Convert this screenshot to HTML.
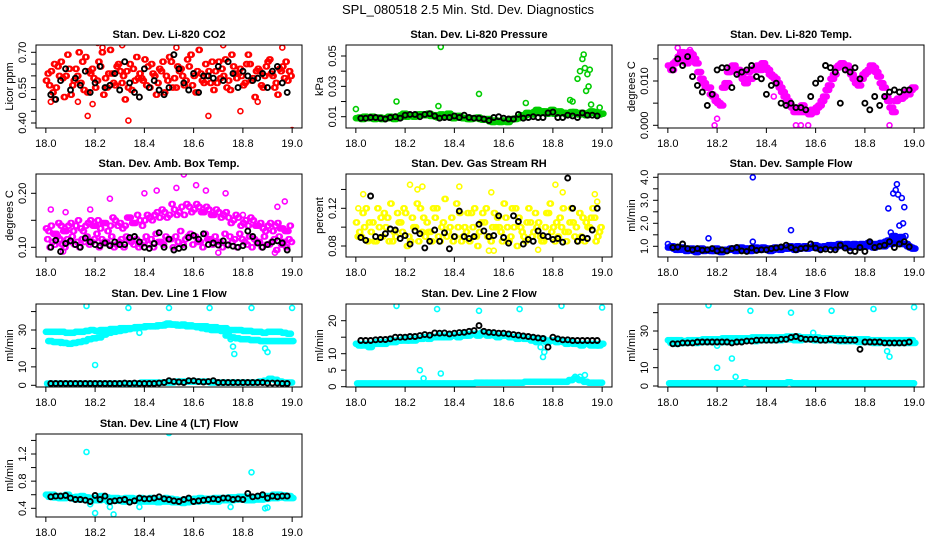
<!DOCTYPE html>
<html><head><meta charset="utf-8"><style>
html,body{margin:0;padding:0;background:#fff;}
svg{display:block;font-family:"Liberation Sans",Arial,sans-serif;}
</style></head><body>
<svg id="chart" width="936" height="540" viewBox="0 0 936 540">
<text x="468" y="14" font-size="13" text-anchor="middle">SPL_080518  2.5 Min. Std. Dev. Diagnostics</text>
</svg>
<script>
// ---------- data ----------
const xTicks=[18.0,18.2,18.4,18.6,18.8,19.0];
const xTickLabels=["18.0","18.2","18.4","18.6","18.8","19.0"];

const co2RedA=[.58,.62,.55,.66,.60,.52,.63,.57,.68,.61,.55,.64,.59,.71,.56,.62,.50,.65,.58,.61,.67,.55,.60,.63,.53,.68,.59,.62,.56,.64,.60,.71,.57,.62,.54,.66,.60,.58,.64,.61,.56,.69,.59,.63,.55,.66,.60,.52,.64,.58];
const co2RedB=[.61,.53,.64,.59,.69,.56,.60,.66,.53,.63,.58,.70,.55,.61,.64,.57,.62,.54,.68,.59,.56,.65,.52,.62,.60,.66,.55,.63,.58,.69,.53,.61,.65,.57,.62,.59,.67,.54,.61,.63,.57,.65,.51,.62,.60,.67,.55,.63,.59,.62];
const co2RedC=[.56,.65,.60,.51,.63,.58,.70,.54,.62,.59,.66,.52,.61,.57,.65,.60,.55,.63,.59,.58,.64,.61,.57,.66,.58,.55,.64,.60,.67,.56,.62,.58,.60,.66,.57,.63,.55,.69,.59,.60,.65,.58,.62,.56,.64,.61,.57,.62,.66,.60];
const co2RedOut=[[18.02,.49],[18.035,.50],[18.13,.49],[18.17,.43],[18.19,.48],[18.21,.74],[18.335,.41],[18.38,.51],[18.66,.43],[18.79,.45],[18.86,.49],[19.0,.37],[18.72,.73],[18.31,.73],[18.53,.72],[18.96,.72],[18.23,.72]];
const co2Black=[.52,.50,.58,.63,.54,.59,.56,.62,.53,.57,.64,.55,.56,.61,.54,.66,.57,.53,.51,.63,.55,.58,.54,.52,.55,.69,.63,.57,.54,.61,.53,.60,.60,.59,.64,.58,.66,.61,.55,.62,.60,.58,.59,.61,.55,.62,.64,.57,.53];

const prsGreenA=[.009,.0085,.0095,.010,.009,.0085,.009,.0095,.010,.011,.010,.0105,.011,.0115,.011,.0105,.010,.0115,.0105,.0095,.010,.0095,.009,.0085,.009,.0085,.008,.007,.0075,.0065,.007,.008,.0085,.0095,.011,.012,.013,.0125,.0135,.013,.012,.0135,.0125,.012,.013,.0115,.012,.0125,.013,.0115];
const prsGreenB=[.0095,.010,.009,.0085,.0095,.009,.010,.0085,.0095,.012,.0105,.010,.0115,.011,.012,.011,.0095,.010,.012,.009,.0105,.009,.0085,.009,.0095,.008,.0085,.0065,.007,.0075,.0065,.0085,.009,.011,.0125,.0115,.0145,.0135,.012,.0145,.013,.0125,.0115,.013,.012,.0125,.011,.0135,.012,.012];
const prsGreenOut=[[18.0,.015],[18.165,.020],[18.345,.056],[18.335,.017],[18.5,.025],[18.69,.019],[18.87,.021],[18.88,.020],[18.90,.035],[18.91,.040],[18.92,.048],[18.925,.051],[18.93,.042],[18.935,.027],[18.94,.038],[18.945,.030],[18.95,.041],[18.955,.018],[18.99,.016]];
const prsBlack=[.009,.009,.0095,.0095,.009,.0085,.0095,.010,.009,.011,.0115,.0115,.010,.0115,.012,.0105,.009,.0095,.0095,.0105,.0095,.011,.0095,.009,.009,.0085,.0075,.0095,.010,.009,.0085,.0085,.0115,.009,.0095,.010,.0095,.0095,.0125,.013,.0095,.0095,.011,.0105,.0095,.0125,.011,.011,.0105];

const tmpMagA=[.0135,.014,.0155,.015,.0165,.015,.012,.0095,.0085,.0065,.005,.0085,.012,.0135,.0125,.0105,.012,.0125,.0135,.014,.0125,.011,.0095,.0075,.0055,.004,.0035,.0045,.003,.0035,.004,.0055,.008,.0105,.013,.014,.0135,.0115,.0095,.0105,.012,.0135,.012,.0095,.0065,.004,.0055,.006,.0075,.008];
const tmpMagB=[.0125,.0145,.0165,.014,.016,.014,.0105,.0085,.007,.0055,.0045,.0095,.013,.0125,.0115,.0095,.0105,.013,.0125,.013,.0115,.0105,.0085,.0065,.0045,.003,.003,.003,.0025,.003,.0045,.0065,.009,.0115,.0135,.0135,.0125,.0105,.009,.0115,.0125,.013,.011,.0085,.0055,.003,.006,.0065,.007,.0085];
const tmpMagOut=[[18.19,0],[18.20,.0015],[18.52,0],[18.54,0],[18.57,0],[18.90,0],[18.43,.0065],[18.25,.0095],[18.04,.0175],[18.09,.017]];
const tmpBlack=[.0125,.015,.0135,.0155,.011,.009,.0075,.0045,.007,.0125,.013,.013,.0085,.0115,.012,.0125,.0135,.011,.0105,.007,.009,.0095,.005,.0045,.005,.004,.004,.0035,.0065,.0095,.0105,.0135,.013,.012,.005,.0125,.012,.013,.0105,.005,.0035,.0065,.0045,.0065,.0075,.008,.0075,.008,.008];

const ambMagA=[.135,.14,.125,.14,.13,.145,.14,.135,.14,.15,.14,.135,.145,.14,.15,.145,.14,.155,.145,.15,.15,.155,.16,.155,.165,.16,.17,.165,.16,.175,.17,.175,.165,.17,.16,.165,.16,.155,.15,.155,.145,.14,.15,.14,.135,.14,.13,.145,.135,.13];
const ambMagB=[.13,.125,.145,.13,.14,.13,.15,.13,.145,.14,.15,.145,.13,.155,.14,.135,.155,.145,.16,.14,.16,.15,.165,.17,.155,.18,.16,.175,.18,.165,.18,.165,.175,.16,.17,.155,.165,.145,.16,.14,.15,.155,.14,.145,.13,.145,.14,.135,.13,.14];
const ambMagC=[.115,.11,.12,.105,.115,.12,.11,.115,.12,.11,.125,.115,.11,.12,.105,.115,.12,.11,.115,.105,.12,.115,.125,.11,.12,.115,.12,.13,.115,.125,.12,.11,.125,.115,.12,.11,.125,.12,.115,.125,.11,.12,.115,.11,.12,.105,.115,.12,.11,.115];
const ambMagD=[.10,.105,.115,.10,.11,.105,.10,.11,.105,.115,.10,.11,.105,.10,.11,.10,.115,.105,.10,.11,.105,.10,.11,.105,.115,.10,.11,.105,.12,.105,.11,.10,.115,.105,.11,.10,.105,.11,.10,.115,.105,.10,.11,.10,.105,.11,.095,.105,.10,.11];
const ambMagOut=[[18.02,.17],[18.08,.165],[18.18,.17],[18.26,.19],[18.40,.20],[18.45,.205],[18.53,.21],[18.56,.235],[18.61,.215],[18.65,.205],[18.73,.20],[18.80,.16],[18.94,.175],[18.97,.185],[18.93,.09],[18.07,.092],[18.70,.09]];
const ambBlack=[.10,.113,.092,.107,.112,.105,.10,.117,.11,.105,.103,.108,.103,.11,.105,.105,.118,.12,.11,.10,.098,.107,.127,.10,.115,.095,.098,.10,.118,.122,.115,.125,.105,.108,.104,.112,.104,.102,.10,.103,.13,.12,.108,.10,.105,.11,.112,.108,.095];

const rhYelA=[.105,.09,.12,.095,.085,.11,.10,.125,.09,.105,.115,.085,.10,.12,.09,.095,.11,.085,.13,.10,.09,.115,.10,.085,.12,.095,.105,.09,.115,.10,.125,.085,.10,.11,.09,.12,.095,.105,.085,.115,.10,.09,.12,.095,.105,.085,.11,.10,.12,.09];
const rhYelB=[.09,.115,.085,.105,.12,.09,.11,.085,.115,.095,.08,.11,.125,.095,.105,.085,.12,.10,.09,.11,.125,.085,.095,.115,.09,.105,.12,.085,.10,.095,.11,.09,.12,.10,.085,.105,.115,.09,.10,.125,.085,.11,.095,.105,.09,.115,.085,.10,.11,.095];
const rhYelC=[.095,.10,.105,.085,.10,.115,.085,.095,.105,.12,.09,.10,.085,.11,.095,.12,.09,.105,.095,.085,.10,.09,.115,.10,.08,.115,.09,.10,.11,.085,.10,.12,.08,.095,.105,.09,.10,.085,.115,.095,.105,.10,.085,.12,.10,.09,.105,.11,.085,.10];
const rhYelOut=[[18.01,.12],[18.03,.135],[18.22,.145],[18.25,.14],[18.27,.143],[18.42,.143],[18.55,.137],[18.81,.145],[18.84,.137],[18.97,.135],[18.54,.075],[18.56,.075],[18.74,.076],[18.98,.127]];
const rhBlack=[.089,.086,.133,.09,.089,.093,.098,.097,.088,.091,.082,.096,.093,.078,.085,.097,.085,.094,.077,.09,.117,.09,.088,.09,.103,.096,.09,.091,.112,.089,.083,.112,.106,.082,.087,.085,.096,.091,.09,.087,.088,.084,.152,.12,.085,.089,.088,.097,.12];

const sfBlueA=[.95,.9,.85,.9,.85,.8,.85,.8,.85,.8,.85,.8,.85,.9,.85,.85,.9,.85,.9,.95,.9,.85,.9,.95,.9,.95,1.0,.95,.9,.95,1.0,.95,1.0,1.05,1.0,1.05,1.1,1.0,1.05,1.1,1.0,1.05,1.1,1.15,1.2,1.1,1.3,1.4,1.1,.95];
const sfBlueB=[1.0,.85,.95,.8,.9,.75,.9,.85,.8,.9,.75,.85,.9,.8,.95,.9,.8,.95,.85,.9,.8,.95,.85,.9,1.0,.85,.9,1.0,.95,1.05,.9,1.0,1.05,.95,1.1,1.0,.95,1.1,1.0,1.05,1.15,.95,1.05,1.0,1.25,1.45,1.2,1.1,1.0,.9];
const sfBlueOut=[[18.0,1.1],[18.165,1.35],[18.345,4.0],[18.345,1.2],[18.50,1.7],[18.895,2.65],[18.905,1.6],[18.915,3.3],[18.925,3.45],[18.93,3.7],[18.935,3.25],[18.94,1.9],[18.95,3.1],[18.955,2.0],[18.96,2.7],[18.965,1.45]];
const sfBlack=[.95,.97,1.1,.9,.85,.9,.83,.85,.9,.8,.85,.8,.9,.95,.8,.78,.93,.82,.85,.85,.9,.93,.97,1.05,.95,.85,.9,.92,1.1,.92,.85,.88,.85,.85,1.05,.92,.8,.78,.95,.78,1.2,.95,1.0,1.05,1.2,.95,1.1,1.2,.98];

const l1CyA=[29,29,29,29,28.5,28.5,29,29,29.5,30,29.5,30,30,30.5,30.5,31,31,31,31.5,31.5,32,32,32,32.5,33,33,33,32.5,32.5,32.5,32,32,32,31.5,31.5,31,31,30,30,30,29.5,29.5,29,29,28.5,29,29,29,28.5,28];
const l1CyB=[24,23.5,23.5,23,22.5,23,23.5,24,25,25.5,26,27.5,28.5,29,29.5,30,30.5,31,31.5,31.5,32,32,32.5,32.5,33.5,33,32.5,33,32,32,31.5,31,30.5,30,30,29.5,27,26,25.5,25,25,24.5,24.5,24,24,24,24,24,24,24];
const l1CyC=[1,1,1,1,1,1,1,1,1,1,1,1,1,1,1,1,1,1,1,1.5,1.5,1.5,1.5,1.5,1.5,1.5,2,2,2,2,2,2,2,1.5,1.5,1.5,1.5,1.5,1.5,1.5,1.5,1.5,1.5,2,2.5,3.5,3,2,1.5,1.5];
const l1CyOut=[[18.165,43],[18.2,11],[18.335,42],[18.50,42],[18.665,42],[18.835,42],[19.0,42],[18.75,25],[18.76,21],[18.765,17],[18.89,20],[18.9,18],[18.38,28.5],[18.06,23]];
const l1Black=[1,1,1,1,1,1,1,1,1,1,1,1,1,1,1,1.2,1,1.2,1,1,1,1,1.2,1.5,2.5,2,1.8,1.5,2.5,2.5,2,1.8,2,2.5,1.5,1.5,1.5,1.5,1.5,1.5,1.5,1.5,1.5,1.5,1.2,1.2,1.2,1,1];

const l2CyA=[13,12.5,13,13,13.5,13.5,13.5,14,14,14,14,14.5,14.5,14.5,15,15,15,15,15.5,15.5,15.5,15.5,15.5,16,16,16,16,16,15.5,15.5,15.5,15,15,15,14.5,14.5,14.5,14.5,14,14,14,14,13.5,13.5,13,13,13,13,13,12.5];
const l2CyB=[12.5,13,12,13,13,13,13.5,13.5,14,14.5,14,14,14.5,15,14.5,15,15.5,15,15,15.5,15,16,15.5,16,15.5,16.5,15.5,16,15,15.5,15.5,15,14.5,15,14.5,14,13.5,14.5,13.5,14,13.5,14,13,13.5,13,12.5,13,12.5,12.5,13];
const l2CyC=[1,1,1,1,1,1,1,1,1,1,1,1,1,1,1,1,1,1,1,1,1,1,1,1,1.2,1.2,1.2,1.2,1.2,1.2,1.2,1.2,1.2,1.2,1.5,1.5,1.5,1.5,1.5,1.5,1.5,1.5,1.5,2,2.5,2,1.5,1.2,1.2,1.2];
const l2CyOut=[[18.165,24.5],[18.33,23.5],[18.50,23],[18.665,23.5],[18.835,24.5],[19.0,24],[18.26,5],[18.275,2.5],[18.345,4],[18.75,12],[18.76,9],[18.765,10.5],[18.89,3],[18.91,3],[18.93,3.5]];
const l2Black=[14,14,14,14.2,14.3,14.3,14.5,15,15,15,15.2,15.2,15.5,15.8,15.6,16.3,16.2,16.3,16,16.2,16.4,16.5,16.8,17,18.5,16.8,16.5,16.4,16.2,16.2,16,15.8,15.6,15.4,15.2,15,14.8,14.6,12,15,14.5,14.2,14.2,14,14,14,14,14,14];

const l3CyA=[25,25,25,24.5,25,25,25,25.5,25.5,25.5,25.5,26,26,26,26,26,26,26.5,26.5,26.5,26.5,26.5,26.5,26.5,27,27,27,26.5,26.5,26.5,26.5,26,26,26,26,26,25.5,25.5,25.5,25.5,25.5,25,25,25,25,25,25,25,25,25];
const l3CyB=[23.5,23,23.5,23.5,24,23.5,24,24,24,24,24,24,24.5,24.5,24.5,25,25,24.5,25,25,25,25,25,25.5,25.5,25,25,25.5,25.5,25,25,25,25,25,24.5,24.5,24.5,24.5,24,24,24,23.5,23.5,24,23.5,23.5,23.5,23.5,23.5,23.5];
const l3CyC=[1.5,1.5,1.5,1.5,1.5,1.5,1.5,1.5,1.5,1.5,1.5,1.5,1.5,1.5,1.5,2,1.5,1.5,1.5,1.5,1.5,1.5,1.5,1.5,2,1.5,1.5,1.5,1.5,1.5,1.5,1.5,1.5,1.5,1.5,1.5,1.5,1.5,1.5,1.5,1.5,1.5,1.5,1.5,1.5,1.5,1.5,1.5,1.5,1.5];
const l3CyOut=[[18.165,44],[18.2,10],[18.26,15],[18.275,5],[18.335,41],[18.50,40],[18.665,41],[18.835,42],[19.0,43],[18.89,19],[18.9,16],[18.59,29],[18.2,22]];
const l3Black=[23,23,23.5,23.5,23.5,24,24,24,24,24,24,24,23.5,24,24,24.5,24.5,25,25,25,25,25,25.5,25.5,26.5,27,26,25.5,25.5,25.5,25,25,25.5,25,25,25,25,25,20,24,24,24,24,23.5,23.5,23.5,23.5,23.5,24];

const l4CyA=[.6,.6,.58,.58,.6,.56,.57,.58,.56,.55,.55,.58,.56,.55,.55,.54,.55,.55,.54,.55,.54,.55,.53,.53,.55,.54,.53,.52,.53,.53,.54,.55,.54,.54,.55,.55,.55,.56,.56,.57,.57,.57,.56,.56,.58,.58,.6,.6,.59,.58];
const l4CyB=[.57,.56,.55,.55,.56,.54,.53,.54,.52,.52,.52,.53,.5,.52,.51,.5,.5,.52,.51,.5,.5,.5,.49,.5,.5,.49,.49,.48,.49,.5,.5,.51,.51,.5,.5,.52,.52,.52,.53,.53,.52,.52,.53,.53,.54,.55,.55,.56,.55,.55];
const l4CyOut=[[18.165,1.23],[18.20,0.33],[18.26,0.42],[18.275,0.31],[18.50,1.51],[18.835,0.93],[18.38,0.42],[18.89,0.40],[18.75,0.42],[18.9,0.41],[18.18,0.46]];
const l4Black=[.57,.58,.58,.59,.55,.53,.53,.52,.50,.59,.53,.58,.50,.51,.52,.53,.49,.51,.55,.54,.54,.55,.57,.54,.53,.51,.50,.53,.55,.50,.51,.52,.53,.54,.53,.55,.55,.53,.54,.53,.62,.57,.58,.60,.55,.58,.57,.58,.58];

// ---------- layout ----------
const NS="http://www.w3.org/2000/svg";
const svg=document.getElementById('chart');
const cols=[[36,302],[346,612],[658,924]];
const rows=[[45,128],[174,257],[304,387],[434,517]];
const RED="#ff0000",GRN="#00cc00",MAG="#ff00ff",YEL="#ffff00",BLU="#0000ff",CYA="#00ffff",BLK="#000000";

const panels=[
 {name:"co2",smear:2,title:"Stan. Dev. Li-820 CO2",ylab:"Licor ppm",c:0,r:0,ref:[.40,123,.70,52.3],ticks:[.40,.45,.50,.55,.60,.65,.70],labels:[[.40,"0.40"],[.55,"0.55"],[.70,"0.70"]],
  reg:[[co2RedA,RED,0],[co2RedB,RED,.007],[co2RedC,RED,.013]],out:[[co2RedOut,RED]],blk:co2Black},
 {name:"pressure",smear:4,title:"Stan. Dev. Li-820 Pressure",ylab:"kPa",c:1,r:0,ref:[.01,116.7,.05,56],ticks:[.01,.02,.03,.04,.05],labels:[[.01,"0.01"],[.03,"0.03"],[.05,"0.05"]],
  reg:[[prsGreenA,GRN,0],[prsGreenB,GRN,.01]],out:[[prsGreenOut,GRN]],blk:prsBlack},
 {name:"licor-temp",smear:4,title:"Stan. Dev. Li-820 Temp.",ylab:"degrees C",c:2,r:0,ref:[0,125.3,.010,81],ticks:[0,.005,.010,.015],labels:[[0,"0.000"],[.010,"0.010"]],
  reg:[[tmpMagA,MAG,0],[tmpMagB,MAG,.01]],out:[[tmpMagOut,MAG]],blk:tmpBlack},
 {name:"amb-box-temp",smear:2,title:"Stan. Dev. Amb. Box Temp.",ylab:"degrees C",c:0,r:1,ref:[.10,247.3,.20,193.3],ticks:[.10,.15,.20],labels:[[.10,"0.10"],[.20,"0.20"]],
  reg:[[ambMagA,MAG,0],[ambMagB,MAG,.01],[ambMagC,MAG,.005],[ambMagD,MAG,.015]],out:[[ambMagOut,MAG]],blk:ambBlack},
 {name:"gas-stream-rh",smear:2,title:"Stan. Dev. Gas Stream RH",ylab:"percent",c:1,r:1,ref:[.08,246,.12,208.3],ticks:[.08,.10,.12,.14],labels:[[.08,"0.08"],[.12,"0.12"]],
  reg:[[rhYelA,YEL,0],[rhYelB,YEL,.007],[rhYelC,YEL,.013]],out:[[rhYelOut,YEL]],blk:rhBlack},
 {name:"sample-flow",smear:4,title:"Stan. Dev. Sample Flow",ylab:"ml/min",c:2,r:1,ref:[1,246.3,4,177.3],ticks:[1,1.5,2,2.5,3,3.5,4],labels:[[1,"1.0"],[2,"2.0"],[3,"3.0"],[4,"4.0"]],
  reg:[[sfBlueA,BLU,0],[sfBlueB,BLU,.01]],out:[[sfBlueOut,BLU]],blk:sfBlack},
 {name:"line1-flow",smear:4,title:"Stan. Dev. Line 1 Flow",ylab:"ml/min",c:0,r:2,ref:[0,385.3,30,330],ticks:[0,10,20,30,40],labels:[[0,"0"],[10,"10"],[30,"30"]],
  reg:[[l1CyA,CYA,0],[l1CyB,CYA,.01],[l1CyC,CYA,.005]],out:[[l1CyOut,CYA]],blk:l1Black},
 {name:"line2-flow",smear:4,title:"Stan. Dev. Line 2 Flow",ylab:"ml/min",c:1,r:2,ref:[0,386.7,20,320.7],ticks:[0,5,10,15,20],labels:[[0,"0"],[5,"5"],[10,"10"],[20,"20"]],
  reg:[[l2CyA,CYA,0],[l2CyB,CYA,.01],[l2CyC,CYA,.005]],out:[[l2CyOut,CYA]],blk:l2Black},
 {name:"line3-flow",smear:4,title:"Stan. Dev. Line 3 Flow",ylab:"ml/min",c:2,r:2,ref:[0,386,30,331],ticks:[0,10,20,30,40],labels:[[0,"0"],[10,"10"],[30,"30"]],
  reg:[[l3CyA,CYA,0],[l3CyB,CYA,.01],[l3CyC,CYA,.005]],out:[[l3CyOut,CYA]],blk:l3Black},
 {name:"line4-flow",smear:4,title:"Stan. Dev. Line 4 (LT) Flow",ylab:"ml/min",c:0,r:3,ref:[.4,508.3,1.2,454],ticks:[.4,.6,.8,1.0,1.2,1.4],labels:[[.4,"0.4"],[.8,"0.8"],[1.2,"1.2"]],
  reg:[[l4CyA,CYA,0],[l4CyB,CYA,.01]],out:[[l4CyOut,CYA]],blk:l4Black}
];

function mk(tag,attrs,parent){const e=document.createElementNS(NS,tag);for(const k in attrs)e.setAttribute(k,attrs[k]);(parent||svg).appendChild(e);return e;}

panels.forEach(p=>{
  const [L,R]=cols[p.c],[T,B]=rows[p.r];
  const xs=v=>L+(v-17.96)/1.08*(R-L);
  const [v0,p0,v1,p1]=p.ref;
  const ys=v=>p0+(v-v0)*(p1-p0)/(v1-v0);
  const g=mk('g',{});
  
  
  const clip=mk('clipPath',{id:'clip-'+p.name},g);
  mk('rect',{x:L,y:T,width:R-L,height:B-T},clip);
  const pts=mk('g',{'clip-path':'url(#clip-'+p.name+')'},g);
  
  
  function dot(t,v,col,sw){
    const c=mk('circle',{cx:xs(t).toFixed(1),cy:ys(v).toFixed(1),r:2.5,fill:'none',stroke:col,'stroke-width':sw||1.6},pts);
    
    
  }
  p.reg.forEach(([vals,col,off])=>{vals.forEach((v,i)=>{for(let k=0;k<p.smear;k++)dot(18+off+i*0.02+k*0.005,v,col);});});
  p.out.forEach(([arr,col])=>{arr.forEach(([t,v])=>dot(t,v,col));});
  p.blk.forEach((v,i)=>dot(18.02+i*0.02,v,BLK,1.9));
  const box=mk('rect',{x:L,y:T,width:R-L,height:B-T,fill:'none',stroke:'#000','stroke-width':1},g);
  
  
  const xa=mk('g',{},g);
  
  
  mk('line',{x1:xs(18),x2:xs(19),y1:B,y2:B,stroke:'#000'},xa);
  xTicks.forEach((t,i)=>{
    mk('line',{x1:xs(t),x2:xs(t),y1:B,y2:B+5,stroke:'#000'},xa);
    const tx=mk('text',{x:xs(t),y:B+19,'font-size':11,'text-anchor':'middle'},xa);
    tx.textContent=xTickLabels[i];
    
    
  });
  const ya=mk('g',{},g);
  
  
  mk('line',{x1:L,x2:L,y1:ys(p.ticks[0]),y2:ys(p.ticks[p.ticks.length-1]),stroke:'#000'},ya);
  p.ticks.forEach(t=>mk('line',{x1:L-5,x2:L,y1:ys(t),y2:ys(t),stroke:'#000'},ya));
  p.labels.forEach(([v,s])=>{
    const x=L-10,y=ys(v);
    const tx=mk('text',{x:x,y:y,'font-size':11,'text-anchor':'middle',transform:`rotate(-90 ${x} ${y})`},ya);
    tx.textContent=s;
    
    
  });
  const yx=L-23,yy=(T+B)/2;
  const yt=mk('text',{x:yx,y:yy,'font-size':11,'text-anchor':'middle',transform:`rotate(-90 ${yx} ${yy})`},g);
  yt.textContent=p.ylab;
  
  
  const ti=mk('text',{x:(L+R)/2,y:T-7,'font-size':11,'font-weight':'bold','text-anchor':'middle'},g);
  ti.textContent=p.title;
  
  
});
</script>
</body></html>
